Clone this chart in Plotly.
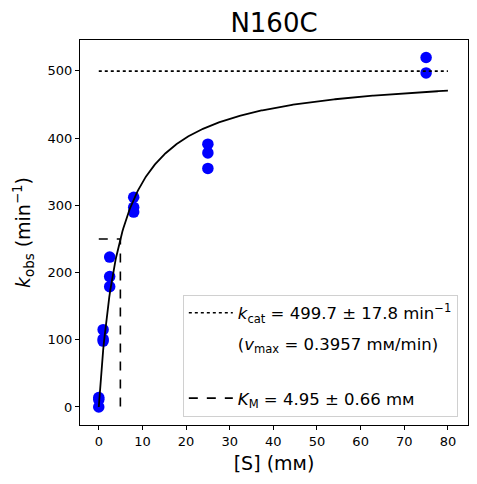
import numpy as np
import plotly.graph_objects as go

s_conc = [0, 0, 0, 1, 1, 1, 2.5, 2.5, 2.5, 8, 8, 8, 25, 25, 25, 75, 75]
k_obs = [0, 11, 14, 115, 101, 98, 223, 194, 179, 312, 297, 290, 391, 378, 355, 520, 497]

# fit results
k_cat = 499.7
k_m = 4.95
s_max = 80

s_fit = np.linspace(0, s_max, 400)
v_fit = k_cat * s_fit / (k_m + s_fit)

fig = go.Figure()

fig.add_trace(go.Scatter(
    x=s_conc, y=k_obs, mode="markers",
    marker=dict(color="blue", size=11.5),
    showlegend=False,
))
fig.add_trace(go.Scatter(
    x=s_fit, y=v_fit, mode="lines",
    line=dict(color="black", width=1.8),
    showlegend=False,
))
fig.add_trace(go.Scatter(
    x=[0, s_max], y=[k_cat, k_cat], mode="lines",
    line=dict(color="black", width=1.6, dash="dot"),
    name="<i>k</i><sub>cat</sub> = 499.7 ± 17.8 min<sup>−1</sup>",
    legendgroup="a",
))
fig.add_trace(go.Scatter(
    x=[None], y=[None], mode="lines",
    line=dict(color="rgba(0,0,0,0)", width=0),
    name="(<i>v</i><sub>max</sub> = 0.3957 mм/min)",
    legendgroup="b",
))
fig.add_trace(go.Scatter(
    x=[None], y=[None], mode="lines",
    line=dict(color="rgba(0,0,0,0)", width=0),
    name=" ",
    legendgroup="b",
))
fig.add_trace(go.Scatter(
    x=[0, k_m, k_m], y=[k_cat / 2, k_cat / 2, 0], mode="lines",
    line=dict(color="black", width=1.6, dash="dash"),
    name="<i>K</i><sub>M</sub> = 4.95 ± 0.66 mм",
    legendgroup="d",
))

axis_style = dict(
    showgrid=False, zeroline=False, automargin=False,
    showline=True, linecolor="black", linewidth=1, mirror=True,
    ticks="outside", ticklen=4, tickcolor="black",
    tickfont=dict(size=13, color="black"),
)

fig.update_xaxes(
    **axis_style,
    range=[-4.3, 84.6], tickvals=list(range(0, 81, 10)),
    title=dict(text="[S] (mм)", font=dict(size=19, color="black"), standoff=9),
)
fig.update_yaxes(
    **axis_style,
    range=[-26.8, 546], tickvals=list(range(0, 501, 100)),
    title=dict(text="<i>k</i><sub>obs</sub> (min<sup>−1</sup>)",
               font=dict(size=19, color="black"), standoff=11),
)

# the page body adds an 8px offset, so margins are shifted to compensate
fig.update_layout(
    width=477, height=484,
    margin=dict(l=72, r=17, t=32, b=67),
    paper_bgcolor="white", plot_bgcolor="white",
    font=dict(family="DejaVu Sans", color="black"),
    title=dict(text="N160C", x=0.5, xref="paper", y=0.969, yref="container",
               yanchor="middle", font=dict(size=26, color="black")),
    legend=dict(
        x=0.265, y=0.022, xanchor="left", yanchor="bottom",
        bgcolor="white", bordercolor="#d0d0d0", borderwidth=1,
        font=dict(size=16.5, color="black"),
        itemwidth=44, tracegroupgap=6,
    ),
)

fig.write_html("out.html")
